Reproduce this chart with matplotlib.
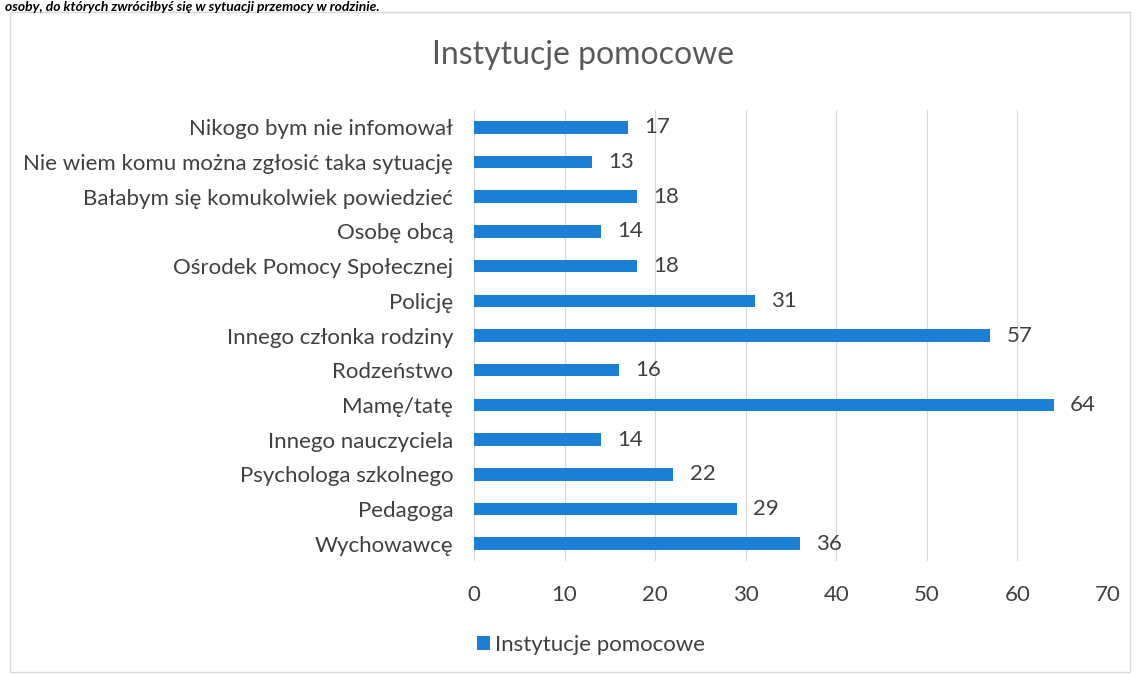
import matplotlib.pyplot as plt

plt.rcParams['font.family'] = ['Lato', 'DejaVu Sans']

categories = [
    "Wychowawcę",
    "Pedagoga",
    "Psychologa szkolnego",
    "Innego nauczyciela",
    "Mamę/tatę",
    "Rodzeństwo",
    "Innego członka rodziny",
    "Policję",
    "Ośrodek Pomocy Społecznej",
    "Osobę obcą",
    "Bałabym się komukolwiek powiedzieć",
    "Nie wiem komu można zgłosić taka sytuację",
    "Nikogo bym nie infomował",
]
values = [36, 29, 22, 14, 64, 16, 57, 31, 18, 14, 18, 13, 17]
series_name = "Instytucje pomocowe"
xticks = [0, 10, 20, 30, 40, 50, 60, 70]

text_color = "#404040"
bar_color = "#1b7fd3"

fig = plt.figure(figsize=(11.36, 6.75), dpi=100)
ax = fig.add_axes([474 / 1136, 1 - 561 / 675, 634 / 1136, 451 / 675])

y = range(len(categories))
ax.barh(y, values, height=0.36, color=bar_color, label=series_name, zorder=3)
for yi, v in zip(y, values):
    ax.text(v + 1.8, yi, str(v), va="center", ha="left", fontsize=16, color=text_color)

ax.set_xlim(0, 70)
ax.set_ylim(-0.5, len(categories) - 0.5)
ax.set_yticks(list(y))
ax.set_yticklabels(categories, fontsize=16, color=text_color)
ax.set_xticks(xticks)
ax.set_xticklabels([str(t) for t in xticks], fontsize=16, color=text_color)
ax.tick_params(axis="both", length=0)
ax.tick_params(axis="y", pad=15)
ax.tick_params(axis="x", pad=17)
ax.grid(axis="x", color="#d9d9d9", linewidth=0.8, zorder=0)
for s in ax.spines.values():
    s.set_visible(False)

fig.text(583 / 1136, 1 - 55 / 675, series_name, ha="center", va="center",
         fontsize=23, color="#595959")

fig.legend(loc="center left", bbox_to_anchor=(457 / 1136, 1 - 645 / 675),
           frameon=False, fontsize=16, handlelength=0.6, handleheight=0.6,
           handletextpad=0.2, labelcolor=text_color)

# chart border
border = plt.Rectangle((10 / 1136, 3 / 675), 1120 / 1136, 660 / 675,
                       transform=fig.transFigure, fill=False,
                       edgecolor="#d9d9d9", linewidth=1)
fig.add_artist(border)

# caption above the chart (cut off in the scan)
fig.text(5 / 1136, 1 - 1 / 675,
         "osoby, do których zwróciłbyś się w sytuacji przemocy w rodzinie.",
         ha="left", va="top", fontsize=10, fontweight="bold",
         fontstyle="italic", color="black")

fig.savefig("out.png", dpi=100)
